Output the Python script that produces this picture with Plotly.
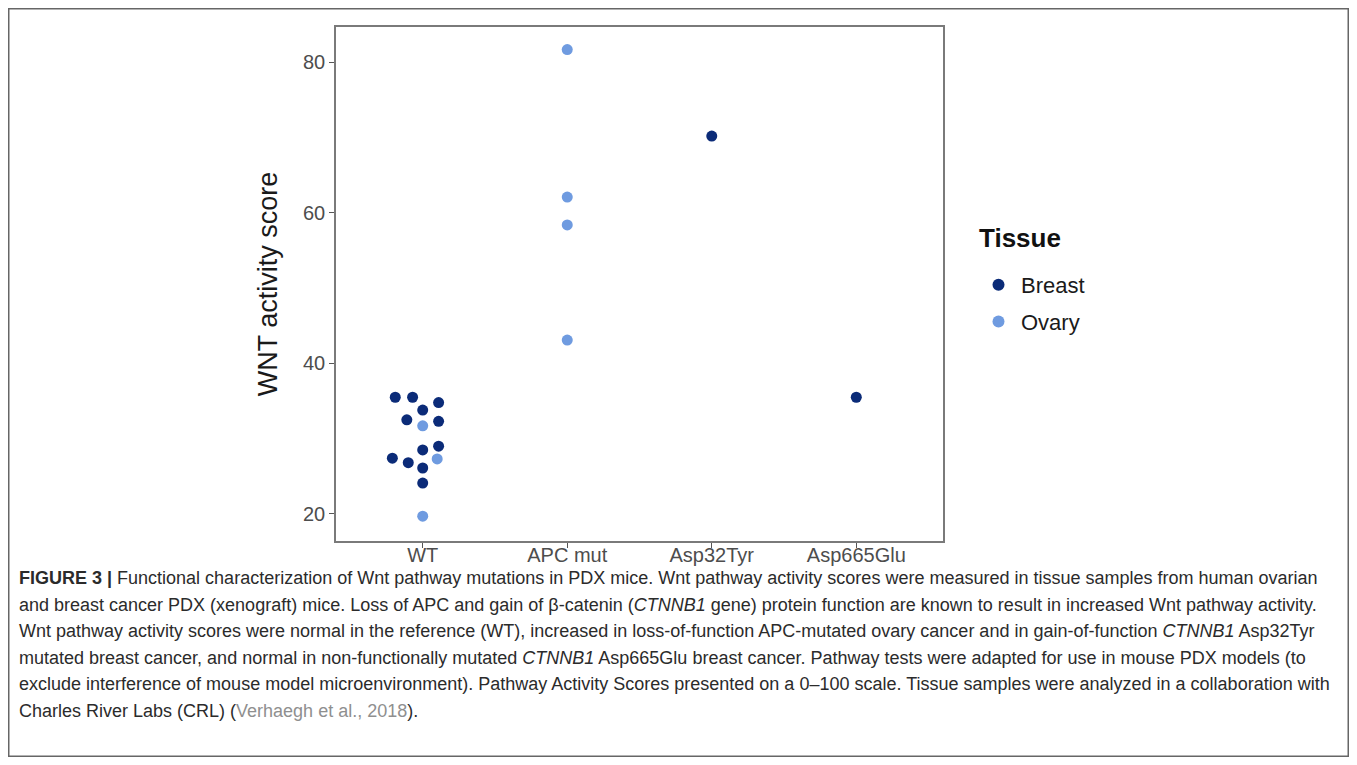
import plotly.graph_objects as go

# ---- data ----
categories = ["WT", "APC mut", "Asp32Tyr", "Asp665Glu"]

breast_group = ["WT"] * 12 + ["Asp32Tyr", "Asp665Glu"]
breast_score = [35.5, 35.5, 33.8, 34.8, 32.5, 32.3, 29.0, 28.5, 27.4, 26.8, 26.1, 24.1, 70.2, 35.5]
breast_dodge = [-0.19, -0.07, 0.0, 0.11, -0.11, 0.11, 0.11, 0.0, -0.21, -0.10, 0.0, 0.0, 0.0, 0.0]

ovary_group = ["WT", "WT", "WT", "APC mut", "APC mut", "APC mut", "APC mut"]
ovary_score = [31.7, 27.3, 19.7, 81.7, 62.1, 58.4, 43.1]
ovary_dodge = [0.0, 0.10, 0.0, 0.0, 0.0, 0.0, 0.0]

y_ticks = [20, 40, 60, 80]

caption_lines = [
    "<b>FIGURE 3 |</b> Functional characterization of Wnt pathway mutations in PDX mice. Wnt pathway activity scores were measured in tissue samples from human ovarian",
    "and breast cancer PDX (xenograft) mice. Loss of APC and gain of β-catenin (<i>CTNNB1</i> gene) protein function are known to result in increased Wnt pathway activity.",
    "Wnt pathway activity scores were normal in the reference (WT), increased in loss-of-function APC-mutated ovary cancer and in gain-of-function <i>CTNNB1</i> Asp32Tyr",
    "mutated breast cancer, and normal in non-functionally mutated <i>CTNNB1</i> Asp665Glu breast cancer. Pathway tests were adapted for use in mouse PDX models (to",
    "exclude interference of mouse model microenvironment). Pathway Activity Scores presented on a 0–100 scale. Tissue samples were analyzed in a collaboration with",
    "Charles River Labs (CRL) (<span style='color:#8f8f8f'>Verhaegh et al., 2018</span>).",
]

# ---- layout geometry (page pixels; page body has an 8px margin) ----
OFF = 8
W, H = 1357 - 2 * OFF, 765 - 2 * OFF
L, R, T, B = 336 - OFF, 943 - OFF, 27 - OFF, 541 - OFF  # plot area in figure pixels


def px2paper_x(px):
    return (px - OFF - L) / (R - L)


def px2paper_y(py):
    return (B - (py - OFF)) / (B - T)


def xpos(groups, dodge):
    return [categories.index(g) + d for g, d in zip(groups, dodge)]


fig = go.Figure()
fig.add_trace(go.Scatter(
    x=xpos(breast_group, breast_dodge), y=breast_score, mode="markers", name="Breast",
    legendgroup="b",
    marker=dict(color="#0b2b78", size=11, line=dict(width=0)),
))
fig.add_trace(go.Scatter(
    x=xpos(ovary_group, ovary_dodge), y=ovary_score, mode="markers", name="Ovary",
    legendgroup="o",
    marker=dict(color="#6f9be0", size=11, line=dict(width=0)),
))

annotations = []
for i, line in enumerate(caption_lines):
    annotations.append(dict(
        text=line, xref="paper", yref="paper",
        x=px2paper_x(17), y=px2paper_y(578 + i * 26.5),
        xanchor="left", yanchor="middle", showarrow=False, align="left",
        font=dict(family="Liberation Sans, Arial, sans-serif", size=18, color="#2b2b2b"),
    ))
annotations.append(dict(
    text="<b>Tissue</b>", xref="paper", yref="paper",
    x=px2paper_x(977), y=px2paper_y(238), xanchor="left", yanchor="middle", showarrow=False,
    font=dict(family="Liberation Sans, Arial, sans-serif", size=26, color="#111111"),
))

fig.update_layout(
    width=W, height=H,
    margin=dict(l=L, r=W - R, t=T, b=H - B, pad=0),
    paper_bgcolor="white", plot_bgcolor="white",
    font=dict(family="Liberation Sans, Arial, sans-serif"),
    showlegend=True,
    legend=dict(
        font=dict(size=22, color="#1a1a1a"),
        x=px2paper_x(976), y=px2paper_y(264), xanchor="left", yanchor="top",
        tracegroupgap=5, itemsizing="constant", itemwidth=35,
        bgcolor="rgba(0,0,0,0)",
    ),
    annotations=annotations,
    shapes=[dict(
        type="rect", xref="paper", yref="paper",
        x0=px2paper_x(8.75), x1=px2paper_x(1348.25), y0=px2paper_y(756.25), y1=px2paper_y(8.75),
        line=dict(color="#666666", width=1.5), fillcolor="rgba(0,0,0,0)", layer="below",
    )],
)

fig.update_xaxes(
    range=[-0.6, 3.6], tickmode="array", tickvals=list(range(len(categories))), ticktext=categories,
    showgrid=False, zeroline=False, showline=True, linecolor="#7a7a7a", linewidth=1.5, mirror=True,
    ticks="outside", ticklen=5, tickwidth=1.2, tickcolor="#555555",
    tickfont=dict(size=20, color="#4d4d4d"), ticklabelstandoff=-10,
)
fig.update_yaxes(
    range=[16.4, 84.7], tickmode="array", tickvals=y_ticks,
    showgrid=False, zeroline=False, showline=True, linecolor="#7a7a7a", linewidth=1.5, mirror=True,
    ticks="outside", ticklen=5, tickwidth=1.2, tickcolor="#555555",
    tickfont=dict(size=20, color="#4d4d4d"),
    title=dict(text="WNT activity score", font=dict(size=27, color="#1a1a1a"), standoff=18),
)

fig.write_html("out.html")
